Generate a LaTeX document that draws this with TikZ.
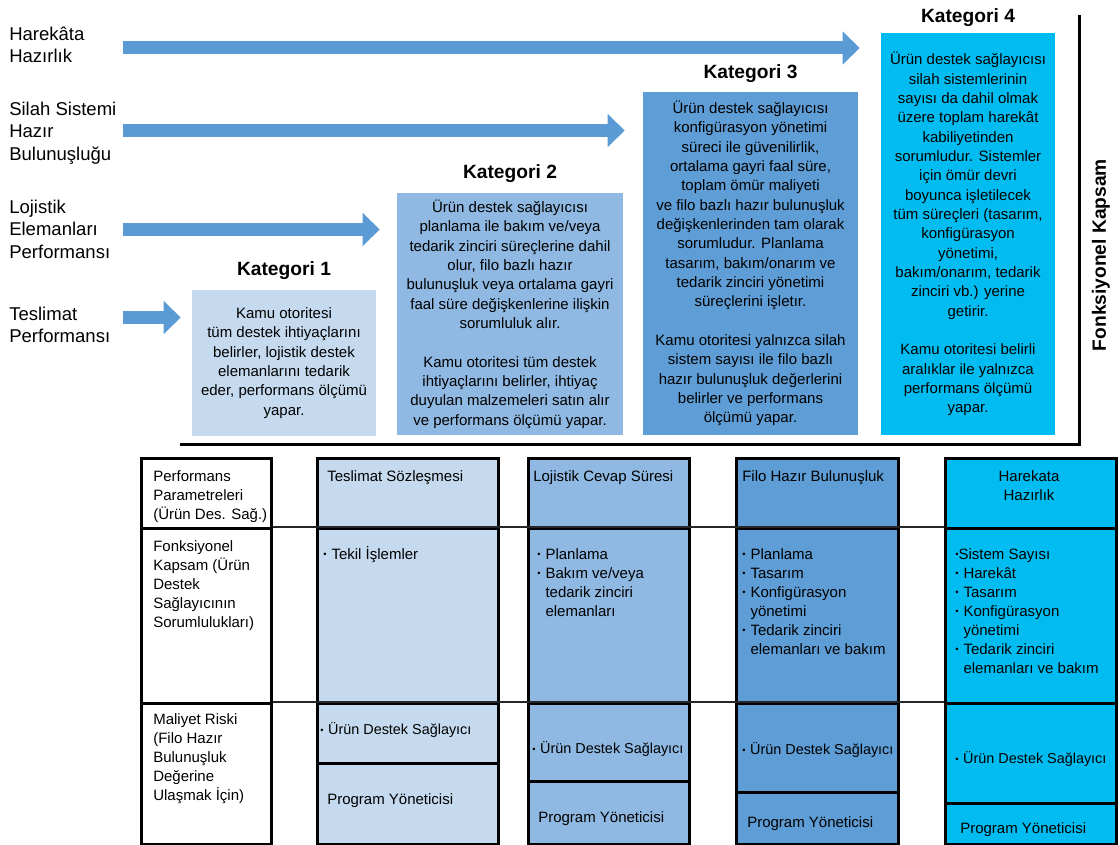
\documentclass[tikz,border=0pt]{standalone}
\usepackage{fontspec}
\setmainfont{Liberation Sans}
\usetikzlibrary{positioning,arrows.meta}

\definecolor{katA}{HTML}{C5DAEE}
\definecolor{katB}{HTML}{8FB9E2}
\definecolor{katC}{HTML}{5E9DD5}
\definecolor{katD}{HTML}{00BCF0}
\definecolor{okmavi}{HTML}{5B9BD5}
\newcommand{\pxu}{0.75pt}
\newcommand{\ilk}{\rule{0pt}{1em}}
\newcommand{\bl}{\makebox[0.55em][l]{\raisebox{0.1em}{\scriptsize •}}}
\newcommand{\ind}{\hspace*{0.55em}}

\begin{document}
\begin{tikzpicture}[x=0.75pt, y=-0.75pt]
\tikzstyle{every node} = [inner sep=0pt]
\tikzstyle{lbl} = [font=\fontsize{13.9}{16.9}\selectfont, align=left, anchor=north west, yshift=13.9pt]
\tikzstyle{kat} = [font=\fontsize{11.25}{14.5}\selectfont, align=center]
\tikzstyle{baslik} = [font=\bfseries\fontsize{14.4}{17}\selectfont]
\tikzstyle{ok} = [draw=okmavi, line width=9.75pt, -{Triangle[length=12.75pt,width=24pt]}]
\tikzstyle{cell} = [draw, line width=1.9pt, anchor=north west]
\tikzstyle{txt} = [font=\fontsize{11.25}{14.25}\selectfont, align=left, anchor=north west, yshift=9.75pt]
\tikzstyle{dar} = [font=\fontsize{10.8}{14.25}\selectfont]
\useasboundingbox (0,0) rectangle (1120,845);

% kategori kutulari
\node [kat, fill=katA, minimum width=184*\pxu, minimum height=146*\pxu] (kat1) at (284,363) {Kamu otoritesi\\tüm destek ihtiyaçlarını\\belirler, lojistik destek\\elemanlarını tedarik\\eder, performans ölçümü\\yapar.};
\node [kat, fill=katB, minimum width=226*\pxu, minimum height=242*\pxu] (kat2) at (510,314) {Ürün destek sağlayıcısı\\planlama ile bakım ve/veya\\tedarik zinciri süreçlerine dahil\\olur, filo bazlı hazır\\bulunuşluk veya ortalama gayri\\faal süre değişkenlerine ilişkin\\sorumluluk alır.\\[14.5pt]Kamu otoritesi tüm destek\\ihtiyaçlarını belirler, ihtiyaç\\duyulan malzemeleri satın alır\\ve performans ölçümü yapar.};
\node [kat, fill=katC, minimum width=215*\pxu, minimum height=343*\pxu] (kat3) at (750.5,263.5) {Ürün destek sağlayıcısı\\konfigürasyon yönetimi\\süreci ile güvenilirlik,\\ortalama gayri faal süre,\\toplam ömür maliyeti\\ve filo bazlı hazır bulunuşluk\\değişkenlerinden tam olarak\\sorumludur. Planlama\\tasarım, bakım/onarım ve\\tedarik zinciri yönetimi\\süreçlerini işletır.\\[14.5pt]Kamu otoritesi yalnızca silah\\sistem sayısı ile filo bazlı\\hazır bulunuşluk değerlerini\\belirler ve performans\\ölçümü yapar.};
\node [kat, fill=katD, minimum width=174*\pxu, minimum height=402*\pxu] (kat4) at (968,234) {Ürün destek sağlayıcısı\\silah sistemlerinin\\sayısı da dahil olmak\\üzere toplam harekât\\kabiliyetinden\\sorumludur. Sistemler\\için ömür devri\\boyunca işletilecek\\tüm süreçleri (tasarım,\\konfigürasyon\\yönetimi,\\bakım/onarım, tedarik\\zinciri vb.) yerine\\getirir.\\[14.5pt]Kamu otoritesi belirli\\aralıklar ile yalnızca\\performans ölçümü\\yapar.};

\node [baslik, above=7.5pt of kat1] (h1) {Kategori 1};
\node [baslik, above=7.5pt of kat2] (h2) {Kategori 2};
\node [baslik, above=7pt of kat3] (h3) {Kategori 3};
\node [baslik, above=4.5pt of kat4] (h4) {Kategori 4};

% sol etiketler ve oklar
\node [lbl] (l1) at (9,40) {\ilk Harekâta\\Hazırlık};
\node [lbl] (l2) at (9,115) {\ilk Silah Sistemi\\Hazır\\Bulunuşluğu};
\node [lbl] (l3) at (9,213) {\ilk Lojistik\\Elemanları\\Performansı};
\node [lbl] (l4) at (9,320) {\ilk Teslimat\\Performansı};

\coordinate (o1) at (123,48);
\coordinate (o2) at (123,130.5);
\coordinate (o3) at (123,229.5);
\coordinate (o4) at (123,317.5);
\draw [ok, shorten >=15.75pt] (o1) -- (o1 -| kat4.west);
\draw [ok, shorten >=13.5pt] (o2) -- (o2 -| kat3.west);
\draw [ok, shorten >=12.75pt] (o3) -- (o3 -| kat2.west);
\draw [ok, shorten >=8.25pt] (o4) -- (o4 -| kat1.west);

% cerceve
\coordinate (fsol) at (180,444);
\coordinate (fkose) at (1079,444);
\coordinate (fust) at (1079,15);
\draw [line width=2.25pt] (fsol) -- (fkose) -- (fust);
\node [baslik, rotate=90] (fk) at (1101,255) {Fonksiyonel Kapsam};

% tablo
\node [cell, minimum width=130*\pxu, minimum height=70*\pxu] (c0a) at (140,457) {};
\node [cell, minimum width=130*\pxu, minimum height=175*\pxu] (c0b) at (140,527) {};
\node [cell, minimum width=130*\pxu, minimum height=141*\pxu] (c0c) at (140,702) {};

\node [cell, fill=katA, minimum width=181*\pxu, minimum height=70*\pxu] (c1a) at (316,457) {};
\node [cell, fill=katA, minimum width=181*\pxu, minimum height=175*\pxu] (c1b) at (316,527) {};
\node [cell, fill=katA, minimum width=181*\pxu, minimum height=60*\pxu] (c1c) at (316,702) {};
\node [cell, fill=katA, minimum width=181*\pxu, minimum height=81*\pxu] (c1d) at (316,762) {};

\node [cell, fill=katB, minimum width=161*\pxu, minimum height=70*\pxu] (c2a) at (527,457) {};
\node [cell, fill=katB, minimum width=161*\pxu, minimum height=175*\pxu] (c2b) at (527,527) {};
\node [cell, fill=katB, minimum width=161*\pxu, minimum height=78*\pxu] (c2c) at (527,702) {};
\node [cell, fill=katB, minimum width=161*\pxu, minimum height=63*\pxu] (c2d) at (527,780) {};

\node [cell, fill=katC, minimum width=162*\pxu, minimum height=70*\pxu] (c3a) at (735,457) {};
\node [cell, fill=katC, minimum width=162*\pxu, minimum height=175*\pxu] (c3b) at (735,527) {};
\node [cell, fill=katC, minimum width=162*\pxu, minimum height=89*\pxu] (c3c) at (735,702) {};
\node [cell, fill=katC, minimum width=162*\pxu, minimum height=52*\pxu] (c3d) at (735,791) {};

\node [cell, fill=katD, minimum width=171*\pxu, minimum height=70*\pxu] (c4a) at (944,457) {};
\node [cell, fill=katD, minimum width=171*\pxu, minimum height=175*\pxu] (c4b) at (944,527) {};
\node [cell, fill=katD, minimum width=171*\pxu, minimum height=100*\pxu] (c4c) at (944,702) {};
\node [cell, fill=katD, minimum width=171*\pxu, minimum height=41*\pxu] (c4d) at (944,802) {};

\draw [line width=1.1pt, black!85] (c0b.north east) -- (c4b.north west);
\draw [line width=1.1pt, black!85] (c0c.north east) -- (c4c.north west);

\node [txt] (t0a) at (153,479) {\ilk Performans\\Parametreleri\\(Ürün Des. Sağ.)};
\node [txt] (t0b) at (153,549) {\ilk Fonksiyonel\\Kapsam (Ürün\\Destek\\Sağlayıcının\\Sorumlulukları)};
\node [txt] (t0c) at (153,722) {\ilk Maliyet Riski\\(Filo Hazır\\Bulunuşluk\\Değerine\\Ulaşmak İçin)};

\node [txt] (t1a) at (327,479) {\ilk Teslimat Sözleşmesi};
\node [txt] (t1b) at (323,557) {\ilk\bl Tekil İşlemler};
\node [txt, dar] (t1c) at (320,733) {\ilk\bl Ürün Destek Sağlayıcı};
\node [txt] (t1d) at (327,802) {\ilk Program Yöneticisi};

\node [txt] (t2a) at (533,479) {\ilk Lojistik Cevap Süresi};
\node [txt] (t2b) at (537,557) {\ilk\bl Planlama\\\bl Bakım ve/veya\\\ind tedarik zinciri\\\ind elemanları};
\node [txt, dar] (t2c) at (532,752) {\ilk\bl Ürün Destek Sağlayıcı};
\node [txt] (t2d) at (538,820) {\ilk Program Yöneticisi};

\node [txt] (t3a) at (742,479) {\ilk Filo Hazır Bulunuşluk};
\node [txt] (t3b) at (742,557) {\ilk\bl Planlama\\\bl Tasarım\\\bl Konfigürasyon\\\ind yönetimi\\\bl Tedarik zinciri\\\ind elemanları ve bakım};
\node [txt, dar] (t3c) at (742,753) {\ilk\bl Ürün Destek Sağlayıcı};
\node [txt] (t3d) at (747,825) {\ilk Program Yöneticisi};

\node [txt, align=center, anchor=north] (t4a) at (1029,479) {\ilk Harekata\\Hazırlık};
\node [txt] (t4b) at (955,557) {\ilk\raisebox{0.1em}{\scriptsize •}Sistem Sayısı\\\bl Harekât\\\bl Tasarım\\\bl Konfigürasyon\\\ind yönetimi\\\bl Tedarik zinciri\\\ind elemanları ve bakım};
\node [txt, dar] (t4c) at (955,762) {\ilk\bl Ürün Destek Sağlayıcı};
\node [txt] (t4d) at (960,831) {\ilk Program Yöneticisi};
\end{tikzpicture}
\end{document}
